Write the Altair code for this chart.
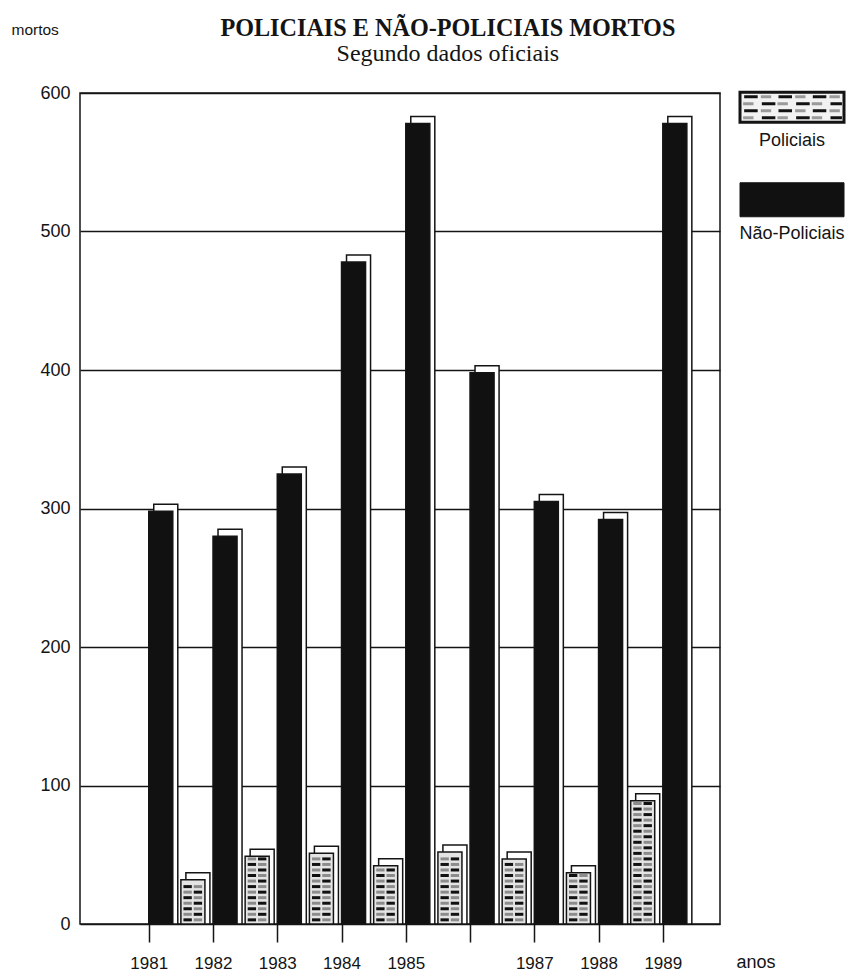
import altair as alt
import pandas as pd

# ---- data ----
anos = [1981, 1982, 1983, 1984, 1985, 1986, 1987, 1988, 1989]
policiais = [0, 32, 49, 51, 42, 52, 47, 37, 89]
nao_policiais = [298, 280, 325, 478, 578, 398, 305, 292, 578]
series = ["Policiais", "Não-Policiais"]
y_ticks = [0, 100, 200, 300, 400, 500, 600]

df = pd.DataFrame({"ano": anos, "Policiais": policiais, "Não-Policiais": nao_policiais})
long = df.melt("ano", var_name="serie", value_name="mortos")

# brick-like hatching rows for the police bars, derived from the values
rows = []
for a, p in zip(anos, policiais):
    lvl, k = 3, 0
    while lvl < p - 1:
        rows.append({"ano": a, "nivel": lvl, "lado": k % 2})
        lvl += 4
        k += 1
pat = pd.DataFrame(rows)

# hatching cells for the legend swatch (row, column)
leg_cells = pd.DataFrame([{"serie": "Policiais", "linha": r, "col": c}
                          for r in range(4) for c in range(3)])

SANS = "Liberation Sans"
SERIF = "Liberation Serif"
INK = "#141414"

xs = alt.Scale(domain=[1979.93, 1989.89], nice=False, zero=False)
ys = alt.Scale(domain=[0, 600], nice=False)

xaxis = alt.Axis(values=anos, format="d",
                 labelExpr="datum.value == 1986 ? '' : datum.label",
                 tickSize=18, tickWidth=1.5, tickColor=INK,
                 labelPadding=13, labelFontSize=17, labelFont=SANS, labelColor=INK,
                 domain=False, grid=False,
                 title="anos", titleX=656, titleY=43, titleAlign="left",
                 titleBaseline="alphabetic", titleFontWeight="normal",
                 titleFontSize=18, titleFont=SANS, titleColor=INK)
yaxis = alt.Axis(values=y_ticks, ticks=False, domain=False,
                 grid=True, gridColor=INK, gridWidth=1.5, gridOpacity=1,
                 labelPadding=10, labelFontSize=18, labelFont=SANS, labelColor=INK,
                 title="mortos", titleAngle=0, titleX=-69, titleY=-59,
                 titleAlign="left", titleBaseline="alphabetic",
                 titleFontSize=15.5, titleFontWeight="normal", titleFont=SANS,
                 titleColor=INK)

X = alt.X("x0:Q", scale=xs, axis=xaxis)
Y = alt.Y("mortos:Q", scale=ys, axis=yaxis)
Y2 = alt.datum(0)

base = alt.Chart(long).transform_filter("datum.mortos > 0").transform_calculate(
    x0="datum.serie == 'Policiais' ? datum.ano - 0.5 : datum.ano",
).transform_calculate(x1="datum.x0 + 0.374")

back = base.mark_rect(fill="white", stroke=INK, strokeWidth=1.5,
                      xOffset=5, x2Offset=5, yOffset=-7).encode(
    x=X, x2="x1:Q", y=Y, y2=Y2)
front_np = base.transform_filter("datum.serie == 'Não-Policiais'").mark_rect(
    fill="#111111", stroke=INK, strokeWidth=1.5).encode(x=X, x2="x1:Q", y=Y, y2=Y2)
front_p = base.transform_filter("datum.serie == 'Policiais'").mark_rect(
    fill="#e4e4e4", stroke=INK, strokeWidth=1.5).encode(x=X, x2="x1:Q", y=Y, y2=Y2)

pat_base = alt.Chart(pat)
YP = alt.Y("nivel:Q", scale=ys, axis=yaxis)
dash_black = pat_base.transform_calculate(
    x0="datum.ano - 0.5 + 0.04 + datum.lado * 0.16"
).transform_calculate(x1="datum.x0 + 0.13").mark_rule(
    color="#111111", strokeWidth=3).encode(x=X, x2="x1:Q", y=YP)
dash_gray = pat_base.transform_calculate(
    x0="datum.ano - 0.5 + 0.04 + (1 - datum.lado) * 0.16"
).transform_calculate(x1="datum.x0 + 0.13").mark_rule(
    color="#8c8c8c", strokeWidth=3).encode(x=X, x2="x1:Q", y=YP)

main = alt.layer(back, front_p, dash_gray, dash_black, front_np).properties(
    width=640, height=831,
    view=alt.ViewBackground(stroke=INK, strokeWidth=1.5),
)

# ---- legend panel ----
leg = pd.DataFrame({"serie": series})
ly = alt.Y("serie:N", sort=series, axis=None,
           scale=alt.Scale(domain=series, range=[-32, 153],
                           paddingInner=0, paddingOuter=0))
lxs = alt.Scale(domain=[0, 1], nice=False, zero=False)
lbase = alt.Chart(leg).transform_calculate(a="0", b="1", c="0.5")

sw_p = lbase.transform_filter("datum.serie == 'Policiais'").mark_bar(
    size=30, color="#f2f2f2", stroke=INK, strokeWidth=3).encode(
    x=alt.X("a:Q", scale=lxs, axis=None), x2="b:Q", y=ly)
sw_np = lbase.transform_filter("datum.serie == 'Não-Policiais'").mark_bar(
    size=34, color="#111111", stroke=INK, strokeWidth=1).encode(
    x=alt.X("a:Q", scale=lxs, axis=None), x2="b:Q", y=ly)
lab = lbase.mark_text(yOffset=34, fontSize=18, font=SANS, color=INK,
                      align="center", baseline="middle").encode(
    x=alt.X("c:Q", scale=lxs, axis=None), y=ly, text="serie:N")

hatch_layers = []
for r, off in enumerate([-10.5, -3.5, 3.5, 10.5]):
    cells = alt.Chart(leg_cells).transform_filter(f"datum.linha == {r}")
    shift = 0.0 if r % 2 == 0 else 0.17
    blk = cells.transform_calculate(
        x0=f"0.04 + datum.col * 0.33 + {shift}"
    ).transform_calculate(x1="min(datum.x0 + 0.13, 0.98)").mark_rule(
        color="#111111", strokeWidth=3, yOffset=off).encode(
        x=alt.X("x0:Q", scale=lxs, axis=None), x2="x1:Q", y=ly)
    gry = cells.transform_calculate(
        x0=f"0.2 + datum.col * 0.33 - {shift}"
    ).transform_calculate(x1="min(datum.x0 + 0.1, 0.98)").mark_rule(
        color="#9a9a9a", strokeWidth=3, yOffset=off).encode(
        x=alt.X("x0:Q", scale=lxs, axis=None), x2="x1:Q", y=ly)
    hatch_layers += [gry, blk]

legend = alt.layer(sw_p, *hatch_layers, sw_np, lab).properties(width=104, height=160)

chart = alt.hconcat(main, legend, spacing=20, bounds="flush").properties(
    title=alt.TitleParams(
        text="POLICIAIS E NÃO-POLICIAIS MORTOS",
        subtitle="Segundo dados oficiais",
        font=SERIF, fontSize=24.2, fontWeight="bold", color=INK,
        subtitleFont=SERIF, subtitleFontSize=24, subtitleColor=INK,
        subtitlePadding=1, anchor="middle", dx=20, offset=-45,
    ),
    padding={"left": 2, "top": 9, "right": 0, "bottom": 0},
).configure_view(stroke=None)

chart.save("out.html", embed_options={"renderer": "svg", "actions": False})
